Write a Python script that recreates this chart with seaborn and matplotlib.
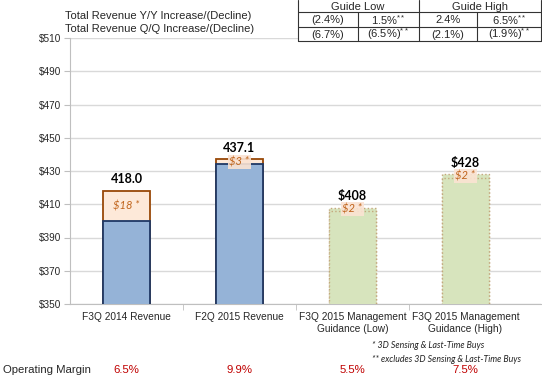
import pandas as pd
import seaborn as sns
from matplotlib import pyplot as plt
from matplotlib.lines import Line2D
from matplotlib.patches import Rectangle

categories = ["F3Q 2014 Revenue", "F2Q 2015 Revenue",
              "F3Q 2015 Management\nGuidance (Low)", "F3Q 2015 Management\nGuidance (High)"]
base_values = [400.0, 434.1, 406.0, 426.0]
extra_values = [18.0, 3.0, 2.0, 2.0]
total_labels = ["418.0", "437.1", "$408", "$428"]
extra_labels = ["$18 *", "$3 *", "$2 *", "$2 *"]
op_margin = ["6.5%", "9.9%", "5.5%", "7.5%"]
yticks = [350, 370, 390, 410, 430, 450, 470, 490, 510]

table_header = ["Guide Low", "Guide High"]
row_labels = ["Total Revenue Y/Y Increase/(Decline)", "Total Revenue Q/Q Increase/(Decline)"]
row_yy = ["(2.4%)", "1.5%$^{**}$", "2.4%", "6.5%$^{**}$"]
row_qq = ["(6.7%)", "(6.5%)$^{**}$", "(2.1%)", "(1.9%)$^{**}$"]

base_colors = ["#95B3D7", "#95B3D7", "#D7E4BD", "#D7E4BD"]
top_colors = ["#FDE9D9", "#FDE9D9", "#D7E4BD", "#D7E4BD"]

sns.set_style("white")
plt.rcParams["font.family"] = ["Liberation Sans", "DejaVu Sans"]
plt.rcParams["mathtext.fontset"] = "custom"
plt.rcParams["mathtext.rm"] = "Liberation Sans"
plt.rcParams["mathtext.it"] = "Liberation Sans"

data = pd.DataFrame({"category": categories, "base": base_values, "extra": extra_values})
data["total"] = data.base + data.extra

W, H = 542, 379
fig = plt.figure(figsize=(W / 100, H / 100), dpi=100)
# axes reaches the right edge, categories keep ~113px spacing
ax = fig.add_axes([70 / W, 1 - 304 / H, 471 / W, 266 / H])

sns.barplot(data=data, x="category", y="total", hue="category", palette=top_colors,
            width=0.42, legend=False, ax=ax, saturation=1)
sns.barplot(data=data, x="category", y="base", hue="category", palette=base_colors,
            width=0.42, legend=False, ax=ax, saturation=1)

for i, p in enumerate(ax.patches):
    idx = i % 4
    if idx < 2:
        p.set_edgecolor("#984807" if i < 4 else "#1F3864")
        p.set_linewidth(1.3)
    else:
        p.set_edgecolor("#C4A77D")
        p.set_linestyle(":")
        p.set_linewidth(1.0)
    p.set_zorder(3)

ax.set_xlim(-0.5, 3.67)
ax.set_ylim(350, 510)
ax.set_yticks(yticks)
ax.set_yticklabels([f"${v}" for v in yticks], fontsize=7.2)
ax.yaxis.grid(True, color="#D9D9D9", linewidth=1)
ax.set_axisbelow(True)
ax.set_xlabel("")
ax.set_ylabel("")
ax.tick_params(axis="x", length=0, labelsize=7.3, pad=6)
ax.set_xticks([0.5, 1.5, 2.5], minor=True)
ax.tick_params(axis="x", which="minor", length=4, color="#BFBFBF", direction="out", bottom=True)
ax.tick_params(axis="y", length=4, color="#BFBFBF", direction="out", left=True, pad=2)
for side in ["top", "right"]:
    ax.spines[side].set_visible(False)
for side in ["left", "bottom"]:
    ax.spines[side].set_color("#BFBFBF")

for i in range(4):
    total = data.total[i]
    ax.annotate(total_labels[i], (i, total), xytext=(0, 4), textcoords="offset points",
                ha="center", va="bottom", fontsize=9, fontweight="bold",
                family="Lato", color="black", zorder=5)
    mid = data.base[i] + data.extra[i] / 2
    bbox = None if i == 0 else dict(boxstyle="square,pad=0.15", fc="#FBE3D3", ec="none", alpha=0.9)
    ax.text(i, mid, extra_labels[i], ha="center", va="center", fontsize=8, style="italic",
            family="Lato", color="#C0631A", zorder=5, bbox=bbox)

# table at the top
def px(x, y):
    return x / W, 1 - y / H

def line(x0, y0, x1, y1):
    fig.add_artist(Line2D([x0 / W, x1 / W], [1 - y0 / H, 1 - y1 / H], color="#333333",
                          lw=0.8, zorder=3))

fig.add_artist(Rectangle(px(298, 41), 243 / W, 41 / H, facecolor="white", edgecolor="none",
                         zorder=2))
for x, y0 in [(298, 0), (358, 12), (419, 0), (477, 12), (541, 0)]:
    line(x, y0, x, 41)
for y in [12, 27, 41]:
    line(298, y, 541, y)

fig.text(*px(358, 6.5), table_header[0], ha="center", va="center", fontsize=8, zorder=4)
fig.text(*px(480, 6.5), table_header[1], ha="center", va="center", fontsize=8, zorder=4)
col_x = [328, 388, 448, 509]
for cx, a, b in zip(col_x, row_yy, row_qq):
    fig.text(*px(cx, 20), a, ha="center", va="center", fontsize=8, zorder=4)
    fig.text(*px(cx, 34.5), b, ha="center", va="center", fontsize=8, zorder=4)
fig.text(*px(65, 16), row_labels[0], ha="left", va="center", fontsize=8)
fig.text(*px(65, 29), row_labels[1], ha="left", va="center", fontsize=8)

# footnotes and operating margin
fig.text(*px(372, 345), "* 3D Sensing & Last-Time Buys", ha="left", va="center",
         fontsize=6.3, style="italic", family="Lato", color="#222222")
fig.text(*px(372, 359), "** excludes 3D Sensing & Last-Time Buys", ha="left", va="center",
         fontsize=6.3, style="italic", family="Lato", color="#222222")
fig.text(*px(3, 370), "Operating Margin", ha="left", va="center", fontsize=8.2)
for i, m in enumerate(op_margin):
    fig.text(*px(126.5 + i * 113, 370), m, ha="center", va="center", fontsize=8.2, color="#C00000")

fig.savefig("out.png", dpi=100)
